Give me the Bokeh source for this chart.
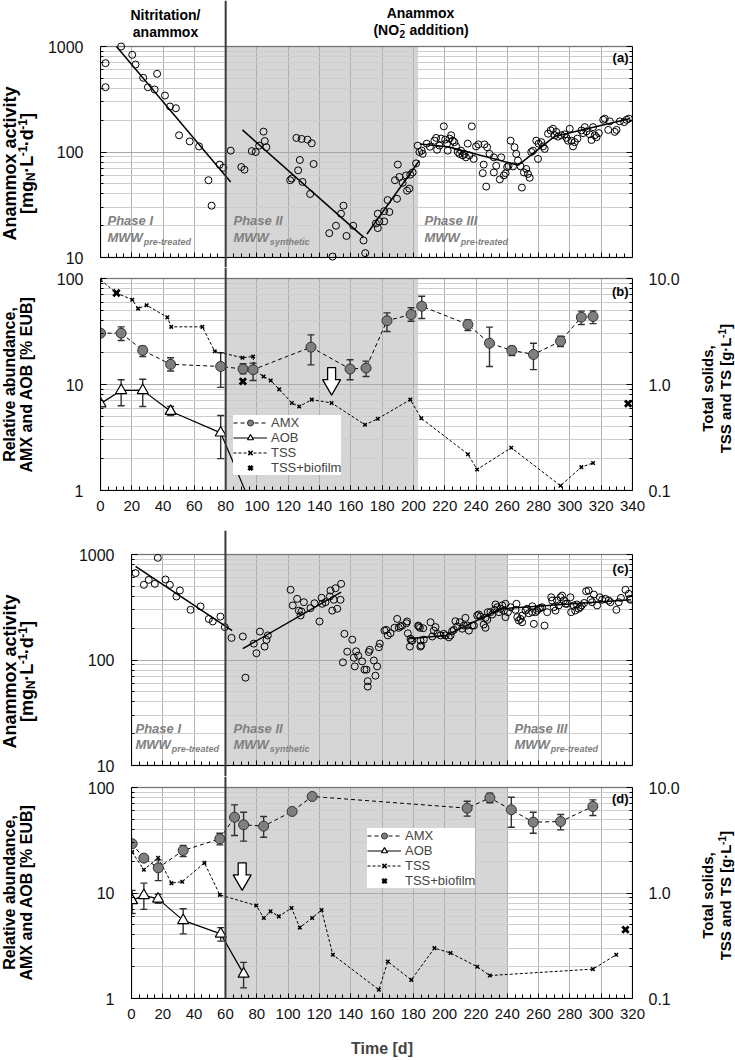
import math
from bokeh.plotting import figure
from bokeh.models import (Range1d, LogScale, LogAxis, FixedTicker, NumeralTickFormatter,
                          BoxAnnotation, Span, Whisker, TeeHead, ColumnDataSource,
                          Legend, LegendItem, Grid)
from bokeh.layouts import column, row
from bokeh.core.properties import value
from bokeh.embed import file_html
from bokeh.resources import INLINE

# ---------------- axis ticks ----------------
day_ticks_ab = list(range(0, 341, 20))
day_minor_ab = list(range(0, 341, 5))
day_ticks_cd = list(range(0, 321, 20))
day_minor_cd = list(range(0, 321, 5))
act_ticks = [10, 100, 1000]
act_minor = [20, 30, 40, 50, 60, 70, 80, 90, 200, 300, 400, 500, 600, 700, 800, 900]
rel_ticks = [1, 10, 100]
rel_minor = [2, 3, 4, 5, 6, 7, 8, 9, 20, 30, 40, 50, 60, 70, 80, 90]
ts_ticks = [0.1, 1, 10]
ts_minor = [0.2, 0.3, 0.4, 0.5, 0.6, 0.7, 0.8, 0.9, 2, 3, 4, 5, 6, 7, 8, 9]

# ---------------- phases ----------------
switch_ab = 80
shade_ab = [80, 203]
switch_cd = 60
shade_cd = [60, 240]

# ---------------- panel (a): anammox activity ----------------
act_a = [(3.2, 695), (3.2, 411), (13.2, 1000), (20.3, 834), (22.4, 675), (27.3, 505), (30.3, 411),
         (34.6, 391), (36.2, 551), (41.2, 343), (44.4, 270), (48.2, 260), (50.2, 144), (57, 126),
         (63, 113), (69, 54), (71, 31), (76.2, 76), (78.5, 71),
         (83.2, 103), (90, 72), (92, 68), (96.7, 102), (99.2, 100), (101.4, 115), (104.2, 156),
         (105, 127), (106, 111), (121.2, 54), (122.2, 56), (125.2, 136), (128.5, 133), (132.3, 131),
         (135, 121), (127.4, 84), (126.3, 67), (129.1, 52), (136.2, 77), (134, 40), (146.2, 17),
         (150.5, 20), (153.7, 26), (155.3, 31), (157.2, 16), (161.5, 20), (148.3, 10.2), (168.1, 14.5),
         (169.2, 11), (176, 21), (177.2, 26), (177.2, 19), (178.2, 22), (181.3, 22), (181.3, 27.5),
         (183.5, 35), (184.6, 27), (188.2, 54), (190, 76), (189.5, 36), (191, 58), (193.1, 51),
         (195.3, 60), (195.9, 43), (197.4, 45), (198, 61), (199.5, 64), (201.7, 78), (202.7, 115),
         (203.8, 100),
         (205.3, 103), (205.9, 96), (208.5, 120), (210.5, 112), (213.4, 128), (214.5, 136),
         (215.1, 105), (216.6, 115), (217.7, 134), (219.4, 175), (220.3, 131), (221.5, 120),
         (221.9, 103), (223, 134), (224.1, 144), (225.1, 128), (226.2, 124), (227.3, 113),
         (228.3, 100), (229.4, 96), (230.4, 103), (231.5, 93), (232.6, 96), (233.6, 89), (234.7, 120),
         (235.8, 93), (237.3, 175), (238.5, 86), (240, 113), (241.5, 118), (244.3, 63), (244.9, 76),
         (245.4, 118), (246.5, 47), (247.1, 111), (248.6, 96), (251.4, 89), (251.4, 64), (252.9, 74),
         (255.2, 55), (256.1, 89), (257.8, 60), (258.9, 63), (259.9, 72), (260.8, 74), (262.1, 128),
         (264.6, 111), (265.7, 96), (266.8, 83), (263.6, 73), (268.5, 73), (269.3, 46), (270.6, 64),
         (272.1, 69), (273.2, 62), (274.3, 57), (275.3, 100), (276.4, 103), (278.5, 128), (279.6, 86),
         (280, 120), (281.7, 124), (282.8, 113), (283.9, 107), (286, 149), (287.7, 160), (289.2, 166),
         (290.3, 144), (291.3, 155), (292.4, 140), (294.5, 144), (296.7, 147), (297.8, 136),
         (298.8, 128), (299.9, 166), (301, 128), (302, 113), (303.1, 124), (304.8, 134), (307.4, 160),
         (308.4, 151), (309.5, 172), (310.6, 157), (312.7, 147), (313.8, 130), (314.8, 172),
         (315.9, 144), (317, 138), (318.5, 151), (321.3, 202), (322.3, 207), (324.5, 162), (325.5, 195),
         (328.7, 155), (329.8, 162), (331.9, 195), (334.7, 192), (336.2, 202), (337.7, 207)]
trend_a1_day = [10.2, 83.2]
trend_a1_val = [1000, 52]
trend_a2_day = [90.7, 168.1]
trend_a2_val = [162, 15.6]
trend_a3_day = [170.3, 203.8]
trend_a3_val = [16.7, 83]
trend_a4_day = [204, 222, 267, 290, 338]
trend_a4_val = [119, 112, 75, 140, 207]

# ---------------- panel (b): relative abundance / solids ----------------
amx_b_day = [0, 13.2, 27, 44.8, 76.8, 91.1, 97.5, 134.5, 159.5, 169.7, 183.1, 198.5, 205.3,
             234.8, 248.6, 262.9, 276.7, 294, 307.3, 314.8]
amx_b_val = [30.5, 30.5, 21, 15.5, 14.8, 14, 13.8, 22.5, 14, 14.3, 40, 45.7, 54.8,
             36.8, 24.5, 21, 19.2, 25.6, 43.2, 43.8]
amx_b_hi = [30.5, 35, 23, 17.9, 19.9, 15.7, 15.9, 29.4, 17.1, 16.6, 47.4, 53, 68,
            40.7, 34.8, 22.8, 24.5, 28.6, 49.2, 49.5]
amx_b_lo = [30.5, 26, 18.4, 13.4, 9.4, 12.6, 10.9, 15.3, 11.1, 11.9, 31.6, 39.5, 42,
            32.3, 14.8, 18.8, 13.8, 22.8, 36.8, 37.5]
aob_b_day = [0, 13.2, 27, 44.8, 76.8, 96]
aob_b_val = [6.6, 8.8, 8.8, 5.6, 3.5, 0.75]
aob_b_hi = [6.6, 11.1, 11.2, 6.2, 5.1, 0.75]
aob_b_lo = [6.6, 6.3, 6.2, 5.1, 2.0, 0.75]
tss_b_day = [0, 10.2, 20.3, 24, 29.5, 42.7, 45.2, 65.1, 73, 90.7, 97.5, 98.5, 104.2, 108.8,
             114.2, 122.3, 127, 135, 147.7, 169, 177.2, 198, 205, 234.8, 240.7, 262.5, 294,
             307.3, 314.8]
tss_b_val = [9.7, 7.3, 6.3, 5.2, 5.6, 4.3, 3.5, 3.5, 2.06, 1.79, 1.84, 1.36, 1.19, 1.09,
             0.9, 0.67, 0.62, 0.72, 0.67, 0.417, 0.475, 0.72, 0.48, 0.22, 0.158, 0.253, 0.111,
             0.166, 0.182]
bio_b_day = [10.2, 91, 337.2]
bio_b_val = [7.3, 1.07, 0.66]
arrow_b = [147.7, 10.7]

# ---------------- panel (c): anammox activity ----------------
act_c = [(2.6, 666), (7.9, 516), (11, 575), (14.9, 527), (16.8, 930), (21.7, 580), (24.5, 516),
         (28.7, 400), (30.9, 456), (37.7, 299), (44.1, 322), (49.4, 245), (51.9, 232), (56.8, 258),
         (59.6, 205),
         (63.9, 162), (71.1, 167), (72.8, 68), (78.1, 143), (79.8, 116), (82, 186), (85, 134),
         (86.2, 155), (87.1, 171), (101.6, 463), (103, 329), (105.8, 380), (106.9, 294), (108.6, 288),
         (108, 264), (110.1, 353), (114.3, 310), (116.9, 345), (120.1, 232), (121.4, 389),
         (121.8, 341), (123.9, 353), (126.7, 400), (127.1, 456), (128.2, 294), (129.2, 372),
         (130.3, 479), (131.4, 306), (133.5, 372), (133.9, 527), (136, 177), (135, 95), (137.8, 120),
         (141, 156), (142, 105), (142.6, 87), (143.5, 121), (144.8, 110), (147.3, 97), (148.8, 81),
         (150.1, 81), (150.9, 63), (150.9, 56), (151.6, 119), (152.2, 125), (154.8, 99), (155.8, 71),
         (156.9, 87), (158, 132), (158.6, 143), (161.6, 190), (162.7, 193), (163.7, 171),
         (165.4, 179), (168, 202), (169.7, 245), (170.7, 202), (171.8, 208), (172.9, 212),
         (175.6, 223), (176.5, 179), (178.2, 159), (178.7, 153), (177.8, 134), (183.1, 212),
         (184.2, 202), (184.5, 134),
         (176, 232), (179.3, 153), (183.5, 208), (184.6, 153), (185, 137), (186.3, 200), (186.7, 156),
         (191, 228), (192.1, 167), (193.1, 190), (194.2, 205), (195.3, 177), (197.4, 171),
         (199.5, 177), (200.6, 171), (202.7, 164), (203.8, 171), (204.8, 188), (205.9, 193),
         (206.9, 233), (208, 208), (209.7, 228), (211.2, 198), (212.3, 212), (213.3, 251),
         (214.4, 212), (215.5, 190), (217.6, 212), (218.7, 212), (220.8, 264), (221.8, 270),
         (222.9, 258), (225, 217), (226.1, 202), (226.1, 251), (227.2, 240), (227.6, 284),
         (229.3, 284), (230.4, 270), (232, 299), (232.5, 336), (233.6, 316), (234.7, 284),
         (235.7, 306), (236.8, 329), (237.9, 294), (238.9, 341), (238.9, 255), (240.4, 284),
         (242.1, 316), (245.3, 299), (245.9, 341), (246.4, 255), (247.4, 237), (248.5, 245),
         (249.5, 264), (249.5, 228), (251.7, 294), (252.7, 306), (253.8, 277), (256, 323), (256, 284),
         (257, 220), (258.1, 284), (259.1, 294), (260.2, 306), (261.2, 312), (262.3, 316),
         (263.8, 212), (265.5, 284), (268.1, 393), (268.7, 366), (269.7, 316), (270.8, 294),
         (271.8, 366), (272.9, 329), (274, 393), (275, 408), (276.1, 366), (277.2, 341), (278.2, 341),
         (280.3, 393), (280.8, 284), (282.4, 329), (283.4, 294), (284.5, 336), (285.5, 306),
         (286.6, 316), (287.6, 329), (289.1, 347), (290.4, 449), (292, 456), (293.2, 372),
         (294.2, 353), (295.3, 417), (297.4, 329), (299.1, 393), (300.6, 372), (302.7, 380),
         (304.8, 366), (305.9, 353), (309.7, 299), (311.2, 353), (312.6, 388), (315.5, 463),
         (317.6, 424), (318.3, 380), (318.7, 372)]
trend_c1_day = [2.6, 64.3]
trend_c1_val = [770, 190]
trend_c2_day = [71.1, 133.9]
trend_c2_val = [128, 440]
trend_c3_day = [178, 201, 236, 319]
trend_c3_val = [160, 171, 306, 372]

# ---------------- panel (d): relative abundance / solids ----------------
amx_d_day = [0.4, 7.9, 17.1, 33, 56.4, 65.8, 71.6, 84.4, 102.6, 115.4, 214.4, 228.9, 242.6,
             256.6, 274.1, 294.7]
amx_d_val = [29.3, 21.4, 17.3, 25.3, 32.6, 52.3, 44.3, 43, 59.3, 82.2, 63.7, 79.8, 61.5,
             46.9, 47.6, 66.1]
amx_d_hi = [29.3, 21.4, 20.6, 28.2, 36.9, 68.5, 58.3, 53.1, 59.3, 82.2, 74, 88.3, 80.9,
            58.3, 55.5, 76.4]
amx_d_lo = [29.3, 21.4, 13.1, 22.2, 28.6, 35.1, 31, 33.8, 59.3, 82.2, 53.5, 71.6, 42,
            36.9, 39.7, 54.3]
aob_d_day = [0.4, 7.9, 17, 33, 57, 71.6]
aob_d_val = [8.5, 9.5, 8.8, 5.5, 4.1, 1.71]
aob_d_hi = [10.6, 12.4, 9.7, 7.1, 4.7, 2.2]
aob_d_lo = [6.4, 7.0, 8.0, 4.1, 3.5, 1.26]
tss_d_day = [0.4, 7.9, 17, 25.5, 32.4, 46.6, 56.4, 79.7, 84.5, 88.8, 94.1, 102.2, 107.5,
             115.4, 121.4, 128.6, 158, 163.7, 178.7, 193.5, 203.8, 220.8, 228.9, 294.7, 309.6]
tss_d_val = [2.44, 1.66, 2.16, 1.24, 1.28, 1.93, 0.96, 0.76, 0.58, 0.67, 0.6, 0.72, 0.47,
             0.58, 0.69, 0.26, 0.121, 0.224, 0.15, 0.3, 0.27, 0.2, 0.165, 0.19, 0.26]
bio_d_day = [315.5]
bio_d_val = [0.45]
arrow_d = [70.7, 14.3]

# ---------------- geometry (page pixels) ----------------
FONT = "Liberation Sans"
LH_W, RH_W = 44, 40
X_MAIN = 44
X_RIGHT = 695
MAIN_W = X_RIGHT - X_MAIN

GA = dict(top=0, h=267, fb=267, fl=100, fr=632, xr=(0, 340), bt=46, bb=257, ylo=10, yhi=1000)
GB = dict(top=267, h=263, fb=490, fl=100, fr=632, xr=(0, 340), bt=278, bb=490, ylo=1, yhi=100)
GC = dict(top=530, h=246, fb=776, fl=131, fr=632, xr=(0, 320), bt=554, bb=765, ylo=10, yhi=1000)
GD = dict(top=776, h=284, fb=998, fl=131, fr=632, xr=(0, 320), bt=787, bb=998, ylo=1, yhi=100)

CW = {' ': 278, '(': 333, ')': 333, '+': 584, ',': 278, '-': 333, '.': 278, '/': 278, '[': 333,
      ']': 333, '%': 889, '\u00b7': 278, 'A': 722, 'B': 722, 'E': 667, 'I': 278, 'L': 611,
      'M': 833, 'N': 722, 'O': 778, 'S': 667, 'T': 611, 'W': 944, 'X': 667, 'a': 556, 'b': 611,
      'c': 556, 'd': 611, 'e': 556, 'g': 611, 'i': 278, 'l': 278, 'm': 889, 'n': 611, 'o': 611,
      'p': 611, 'r': 389, 's': 556, 't': 333, 'u': 611, 'v': 556, 'y': 556, 'h': 611, 'x': 556}


def tw(s, size):
    return sum(CW.get(c, 556) for c in s) * size / 1000.0


def dec_of(g):
    return (g['bb'] - g['bt']) / 2.0


def dx(g, px):
    x0, x1 = g['xr']
    return x0 + (px - g['fl']) / (g['fr'] - g['fl']) * (x1 - x0)


def dy(g, py):
    return g['ylo'] * 10 ** ((g['bb'] - py) / dec_of(g))


def make_main(g):
    d = dec_of(g)
    ys = g['ylo'] * 10 ** (-(g['fb'] - g['bb']) / d)
    ye = g['yhi'] * 10 ** ((g['bt'] - g['top']) / d)
    p = figure(width=MAIN_W, height=g['h'], x_range=Range1d(*g['xr']),
               y_range=Range1d(ys, ye), y_axis_type="log",
               output_backend="svg", toolbar_location=None,
               min_border_left=g['fl'] - X_MAIN, min_border_right=X_RIGHT - g['fr'],
               min_border_top=0, min_border_bottom=g['top'] + g['h'] - g['fb'])
    if p.title is not None:
        p.title.visible = False
    p.outline_line_color = None
    p.background_fill_color = "white"
    p.border_fill_color = "white"
    g['ys'], g['ye'] = ys, ye
    return p


def cfg_axis(ax, ticks, minor, bounds, fmt=None, size="16px", standoff=16, show=True):
    ax.ticker = FixedTicker(ticks=ticks, minor_ticks=minor)
    ax.bounds = bounds
    ax.major_tick_in = 6
    ax.major_tick_out = 0
    ax.minor_tick_in = 3
    ax.minor_tick_out = 0
    ax.major_tick_line_color = "black"
    ax.minor_tick_line_color = "black"
    ax.axis_line_color = "black"
    ax.axis_line_width = 1
    ax.major_label_text_font = FONT
    ax.major_label_text_font_size = size
    ax.major_label_text_color = "#111111" if show else None
    ax.major_label_standoff = standoff
    if fmt is not None:
        ax.formatter = fmt


def decorate(p, g, xt, xm, yt, ym, shade, switch, fixed_bottom):
    p.add_layout(BoxAnnotation(left=shade[0], right=shade[1], bottom=g['ylo'], top=g['yhi'],
                               fill_color="#d6d6d6", fill_alpha=1, line_color=None, level="image"))
    p.xgrid.ticker = FixedTicker(ticks=xt)
    p.xgrid.grid_line_color = "#b0b0b0"
    p.xgrid.grid_line_width = 1
    p.ygrid.ticker = FixedTicker(ticks=yt, minor_ticks=ym)
    p.ygrid.grid_line_color = "#a8a8a8"
    p.ygrid.minor_grid_line_color = "#cdcdcd"
    if "cross_bounds" in Grid.properties():
        p.xgrid.cross_bounds = (g['ylo'], g['yhi'])
    else:
        p.xgrid.visible = False
        p.segment(x0=xt, y0=[g['ylo']] * len(xt), x1=xt, y1=[g['yhi']] * len(xt),
                  line_color="#b0b0b0", line_width=1, level="underlay")
    fmt = NumeralTickFormatter(format="0")
    cfg_axis(p.yaxis[0], yt, ym, (g['ylo'], g['yhi']), fmt=fmt, size="16px", standoff=17)
    rax = LogAxis()
    cfg_axis(rax, yt, ym, (g['ylo'], g['yhi']), show=False)
    xa = p.xaxis[0]
    cfg_axis(xa, xt, xm, g['xr'], size="15px", standoff=10, show=not fixed_bottom)
    xa.minor_tick_in = 4
    xa.major_tick_in = 5
    if fixed_bottom:
        xa.fixed_location = g['ylo']
    p.add_layout(BoxAnnotation(left=g['xr'][0], right=g['xr'][1], bottom=g['ylo'], top=g['yhi'],
                               fill_color=None, fill_alpha=0, line_color="black", line_width=1.6,
                               level="overlay"))
    p.add_layout(Span(location=switch, dimension="height", line_color="#3a3a3a", line_width=2,
                      level="overlay"))
    return rax


def ptext(p, g, px, py, txt, size="14px", style="bold", color="black", align="left",
          xo=0, yo=0):
    p.text(x=[dx(g, px)], y=[dy(g, py)], text=[txt], text_font=value(FONT),
           text_font_size=size, text_font_style=style, text_color=color,
           text_align=align, text_baseline="middle", x_offset=xo, y_offset=yo)


def phase_label(p, g, px, py1, py2, title, sub):
    ptext(p, g, px, py1, title, size="13px", style="bold italic", color="#808080")
    ptext(p, g, px, py2, "MWW", size="13px", style="bold italic", color="#808080")
    ptext(p, g, px, py2, sub, size="9px", style="bold italic", color="#808080",
          xo=tw("MWW", 13) + 1, yo=4)


def block_arrow(p, g, pos):
    d = dec_of(g)
    x, v = pos
    p.rect([x], [v * 10 ** (7.8 / d)], width=8, height=12, width_units="screen",
           height_units="screen", fill_color="white", line_color="black", line_width=1.3)
    p.scatter([x], [v * 10 ** (-3.4 / d)], marker="inverted_triangle", size=18,
              fill_color="white", line_color="black", line_width=1.3)
    p.rect([x], [v * 10 ** (1.8 / d)], width=6.4, height=2.6, width_units="screen",
           height_units="screen", fill_color="white", line_color=None)


def whiskers(p, xs, lo, hi):
    src = ColumnDataSource(dict(x=xs, lo=lo, hi=hi))
    p.add_layout(Whisker(source=src, base="x", lower="lo", upper="hi", dimension="height",
                         line_color="#303030", line_width=1.4,
                         upper_head=TeeHead(size=7, line_color="#303030", line_width=1.4),
                         lower_head=TeeHead(size=7, line_color="#303030", line_width=1.4)))


def abundance(p, g, amx, aob, tss, bio, legend_loc):
    p.extra_y_ranges = {"ts": Range1d(g['ys'] / 10.0, g['ye'] / 10.0)}
    p.extra_y_scales = {"ts": LogScale()}
    rax = LogAxis(y_range_name="ts")
    cfg_axis(rax, ts_ticks, ts_minor, (0.1, 10), fmt=NumeralTickFormatter(format="0.0"),
             size="16px", standoff=16)
    p.add_layout(rax, "right")
    amx_d, amx_v, amx_lo, amx_hi = amx
    aob_d, aob_v, aob_lo, aob_hi = aob
    whiskers(p, amx_d, amx_lo, amx_hi)
    whiskers(p, aob_d, aob_lo, aob_hi)
    l_tss = p.line(tss[0], tss[1], y_range_name="ts", line_color="black", line_width=1,
                   line_dash="3 2")
    s_tss = p.scatter(tss[0], tss[1], y_range_name="ts", marker="x", size=5,
                      line_color="black", line_width=1.5)
    s_bio = p.scatter(bio[0], bio[1], y_range_name="ts", marker="x", size=9,
                      line_color="black", line_width=2.8)
    l_amx = p.line(amx_d, amx_v, line_color="black", line_width=1, line_dash="4 3")
    l_aob = p.line(aob_d, aob_v, line_color="black", line_width=1.2)
    s_amx = p.scatter(amx_d, amx_v, marker="circle", size=10, fill_color="#7f7f7f",
                      line_color="#303030", line_width=1)
    s_aob = p.scatter(aob_d, aob_v, marker="triangle", size=11, fill_color="white",
                      line_color="black", line_width=1.2)
    leg = Legend(items=[LegendItem(label="AMX", renderers=[l_amx, s_amx]),
                        LegendItem(label="AOB", renderers=[l_aob, s_aob]),
                        LegendItem(label="TSS", renderers=[l_tss, s_tss]),
                        LegendItem(label="TSS+biofilm", renderers=[s_bio])],
                 location=legend_loc)
    leg.background_fill_color = "white"
    leg.background_fill_alpha = 1
    leg.border_line_color = None
    leg.label_text_font = FONT
    leg.label_text_font_size = "13px"
    leg.glyph_width = 34
    leg.glyph_height = 15
    leg.label_height = 14
    leg.label_standoff = 4
    leg.spacing = 0
    leg.padding = 4
    leg.margin = 0
    p.add_layout(leg)


def helper(w, g):
    fh = g['fb'] - g['top']
    q = figure(width=w, height=g['h'], x_range=Range1d(0, w), y_range=Range1d(0, fh),
               x_axis_type=None, y_axis_type=None, output_backend="svg",
               toolbar_location=None, min_border=0, min_border_left=0, min_border_right=0,
               min_border_top=0, min_border_bottom=g['top'] + g['h'] - g['fb'])
    if q.title is not None:
        q.title.visible = False
    q.outline_line_color = None
    q.grid.visible = False
    return q


def rot_pieces(q, g, x, py_center, pieces):
    yc = g['fb'] - py_center
    widths = [tw(t, s) for t, s, sh in pieces]
    y = yc - sum(widths) / 2.0
    for (t, s, sh), w in zip(pieces, widths):
        q.text(x=[x + sh], y=[y + w / 2.0], text=[t], angle=math.pi / 2, text_font=value(FONT),
               text_font_size=f"{s}px", text_font_style="bold", text_color="black",
               text_align="center", text_baseline="middle")
        y += w


# ================= panel (a) =================
pa = make_main(GA)
rax_a = decorate(pa, GA, day_ticks_ab, day_minor_ab, act_ticks, act_minor, shade_ab, switch_ab, True)
pa.add_layout(rax_a, "right")
pa.scatter([d for d, _ in act_a], [v for _, v in act_a], marker="circle", size=7,
           fill_color=None, line_color="black", line_width=1)
for tx, ty in [(trend_a1_day, trend_a1_val), (trend_a2_day, trend_a2_val),
               (trend_a3_day, trend_a3_val), (trend_a4_day, trend_a4_val)]:
    pa.line(tx, ty, line_color="black", line_width=1.5)
phase_label(pa, GA, 107, 220, 237, "Phase I", "pre-treated")
phase_label(pa, GA, 233, 220, 237, "Phase II", "synthetic")
phase_label(pa, GA, 424, 220, 237, "Phase III", "pre-treated")
ptext(pa, GA, 628, 57, "(a)", size="13px", align="right")
# header
ptext(pa, GA, 165, 14, "Nitritation/", size="14px", align="center")
ptext(pa, GA, 165, 31, "anammox", size="14px", align="center")
ptext(pa, GA, 420, 12, "Anammox", size="14px", align="center")
w1, w2, w3 = tw("(NO", 14), tw("2", 10), tw(" addition)", 14)
hx = 420 - (w1 + w2 + w3) / 2.0
ptext(pa, GA, hx, 29, "(NO", size="14px")
ptext(pa, GA, hx, 29, "2", size="10px", xo=w1 + 0.5, yo=4)
ptext(pa, GA, hx, 29, "\u2013", size="9px", xo=w1 + 1, yo=-6)
ptext(pa, GA, hx, 29, "addition)", size="14px", xo=w1 + w2 + tw(" ", 14) + 1)

# ================= panel (b) =================
pb = make_main(GB)
decorate(pb, GB, day_ticks_ab, day_minor_ab, rel_ticks, rel_minor, shade_ab, switch_ab, False)
abundance(pb, GB, (amx_b_day, amx_b_val, amx_b_lo, amx_b_hi),
          (aob_b_day, aob_b_val, aob_b_lo, aob_b_hi), (tss_b_day, tss_b_val),
          (bio_b_day, bio_b_val), (133, 15))
block_arrow(pb, GB, arrow_b)
ptext(pb, GB, 628, 291, "(b)", size="13px", align="right")

# ================= panel (c) =================
pc = make_main(GC)
rax_c = decorate(pc, GC, day_ticks_cd, day_minor_cd, act_ticks, act_minor, shade_cd, switch_cd, True)
pc.add_layout(rax_c, "right")
pc.scatter([d for d, _ in act_c], [v for _, v in act_c], marker="circle", size=7,
           fill_color=None, line_color="black", line_width=1)
for tx, ty in [(trend_c1_day, trend_c1_val), (trend_c2_day, trend_c2_val),
               (trend_c3_day, trend_c3_val)]:
    pc.line(tx, ty, line_color="black", line_width=1.5)
phase_label(pc, GC, 135, 728, 744, "Phase I", "pre-treated")
phase_label(pc, GC, 233, 728, 744, "Phase II", "synthetic")
phase_label(pc, GC, 514, 728, 744, "Phase III", "pre-treated")
ptext(pc, GC, 628, 568, "(c)", size="13px", align="right")

# ================= panel (d) =================
pd = make_main(GD)
decorate(pd, GD, day_ticks_cd, day_minor_cd, rel_ticks, rel_minor, shade_cd, switch_cd, False)
abundance(pd, GD, (amx_d_day, amx_d_val, amx_d_lo, amx_d_hi),
          (aob_d_day, aob_d_val, aob_d_lo, aob_d_hi), (tss_d_day, tss_d_val),
          (bio_d_day, bio_d_val), (236, 110))
block_arrow(pd, GD, arrow_d)
ptext(pd, GD, 628, 798, "(d)", size="13px", align="right")
pd.xaxis[0].axis_label = "Time [d]"
pd.xaxis[0].axis_label_text_font = FONT
pd.xaxis[0].axis_label_text_font_size = "16px"
pd.xaxis[0].axis_label_text_font_style = "bold"
pd.xaxis[0].axis_label_standoff = 18

# ================= side titles =================
act_title2 = [("[mg", 18, 0), ("N", 12, 4.5), ("\u00b7L", 18, 0), ("-1", 12, -4.5),
              ("\u00b7d", 18, 0), ("-1", 12, -4.5), ("]", 18, 0)]
ts_title2 = [("TSS and TS [g\u00b7L", 15, 0), ("-1", 10, -4), ("]", 15, 0)]

lh_a = helper(LH_W, GA)
rot_pieces(lh_a, GA, 9, 163, [("Anammox activity", 18, 0)])
rot_pieces(lh_a, GA, 26, 163, act_title2)
rh_a = helper(RH_W, GA)

lh_b = helper(LH_W, GB)
rot_pieces(lh_b, GB, 9, 384, [("Relative abundance,", 16, 0)])
rot_pieces(lh_b, GB, 26, 384, [("AMX and AOB [% EUB]", 16, 0)])
rh_b = helper(RH_W, GB)
rot_pieces(rh_b, GB, 12, 388, [("Total solids,", 15, 0)])
rot_pieces(rh_b, GB, 30, 388, ts_title2)

lh_c = helper(LH_W, GC)
rot_pieces(lh_c, GC, 9, 671, [("Anammox activity", 18, 0)])
rot_pieces(lh_c, GC, 26, 671, act_title2)
rh_c = helper(RH_W, GC)

lh_d = helper(LH_W, GD)
rot_pieces(lh_d, GD, 9, 892, [("Relative abundance,", 16, 0)])
rot_pieces(lh_d, GD, 26, 892, [("AMX and AOB [% EUB]", 16, 0)])
rh_d = helper(RH_W, GD)
rot_pieces(rh_d, GD, 12, 895, [("Total solids,", 15, 0)])
rot_pieces(rh_d, GD, 30, 895, ts_title2)

layout = column(row(lh_a, pa, rh_a), row(lh_b, pb, rh_b), row(lh_c, pc, rh_c),
                row(lh_d, pd, rh_d))

open("out.html", "w").write(file_html(layout, INLINE))
